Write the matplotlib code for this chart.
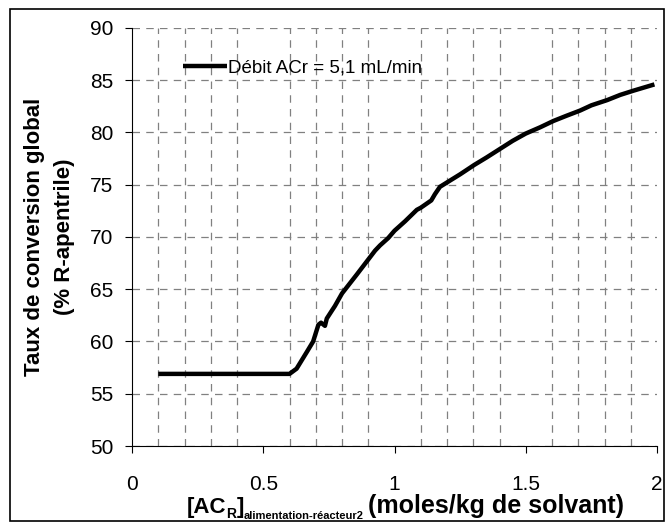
import matplotlib.pyplot as plt
from matplotlib.patches import Rectangle

plt.rcParams['font.family'] = ['Liberation Sans', 'DejaVu Sans']

# conversion globale vs concentration d'alimentation
conc = [0.10, 0.20, 0.30, 0.40, 0.50, 0.60, 0.627, 0.666, 0.69, 0.70, 0.71,
        0.72, 0.735, 0.742, 0.76, 0.773, 0.80, 0.856, 0.926, 0.945, 0.976,
        1.00, 1.04, 1.085, 1.10, 1.14, 1.154, 1.173, 1.205, 1.25, 1.304,
        1.35, 1.40, 1.45, 1.50, 1.555, 1.605, 1.655, 1.707, 1.75, 1.81,
        1.86, 1.91, 1.99]
conv = [56.9, 56.9, 56.9, 56.9, 56.9, 56.9, 57.4, 59.0, 60.0, 60.8, 61.6,
        61.8, 61.5, 62.2, 62.9, 63.4, 64.6, 66.4, 68.7, 69.2, 69.9,
        70.6, 71.5, 72.6, 72.8, 73.5, 74.1, 74.8, 75.3, 76.0, 76.9,
        77.6, 78.4, 79.2, 79.9, 80.5, 81.1, 81.6, 82.1, 82.6, 83.1,
        83.6, 84.0, 84.6]

xticks = [0, 0.5, 1, 1.5, 2]
xtick_labels = ['0', '0.5', '1', '1.5', '2']
yticks = [50, 55, 60, 65, 70, 75, 80, 85, 90]

fig = plt.figure(figsize=(6.68, 5.27), dpi=100)
ax = fig.add_axes([0.1976, 0.1537, 0.786, 0.7932])

ax.plot(conc, conv, color='black', lw=3.2, solid_capstyle='butt',
        label='Débit ACr = 5,1 mL/min')

ax.set_xlim(0, 2)
ax.set_ylim(50, 90)
ax.set_xticks(xticks)
ax.set_xticklabels(xtick_labels)
ax.set_xticks([i / 10 for i in range(21)], minor=True)
ax.set_yticks(yticks)

grid_kw = dict(color='#808080', lw=0.9, linestyle=(0, (6, 5)))
ax.grid(True, which='minor', axis='x', **grid_kw)
ax.grid(True, which='major', axis='y', **grid_kw)
ax.set_axisbelow(True)

ax.spines['top'].set_visible(False)
ax.spines['right'].set_visible(False)
ax.tick_params(axis='both', which='major', direction='out', length=5,
               labelsize=15)
ax.tick_params(axis='y', pad=8.5)
ax.tick_params(axis='x', pad=16)
ax.tick_params(axis='x', which='minor', length=0)

ax.set_ylabel('Taux de conversion global\n(% R-apentrile)', fontsize=16,
              fontweight='bold', labelpad=11, linespacing=1.55)

ax.legend(loc='center left', bbox_to_anchor=(0.097, 0.905), frameon=False,
          fontsize=13.5, handlelength=2.35, handletextpad=0.05,
          borderpad=0, borderaxespad=0)

# x label with subscripts, built piece by piece
pieces = [('[AC', 16, 0), ('R', 10, -5), (']', 16, 0),
          ('alimentation-réacteur2', 8, -6), ('(moles/kg de solvant)', 18, 0)]
fig.canvas.draw()
r = fig.canvas.get_renderer()
x0 = 187
ybase = 527 - 513
for txt, size, dy in pieces:
    t = fig.text(x0 / 668, (ybase + dy) / 527, txt, fontsize=size,
                 fontweight='bold', ha='left', va='baseline')
    x0 += t.get_window_extent(r).width
    if txt.startswith('alim'):
        x0 += 4

fig.add_artist(Rectangle((10 / 668, 6 / 527), 654 / 668, 512 / 527,
                         transform=fig.transFigure, fill=False,
                         edgecolor='black', lw=1.2))

fig.savefig('out.png', dpi=100)
